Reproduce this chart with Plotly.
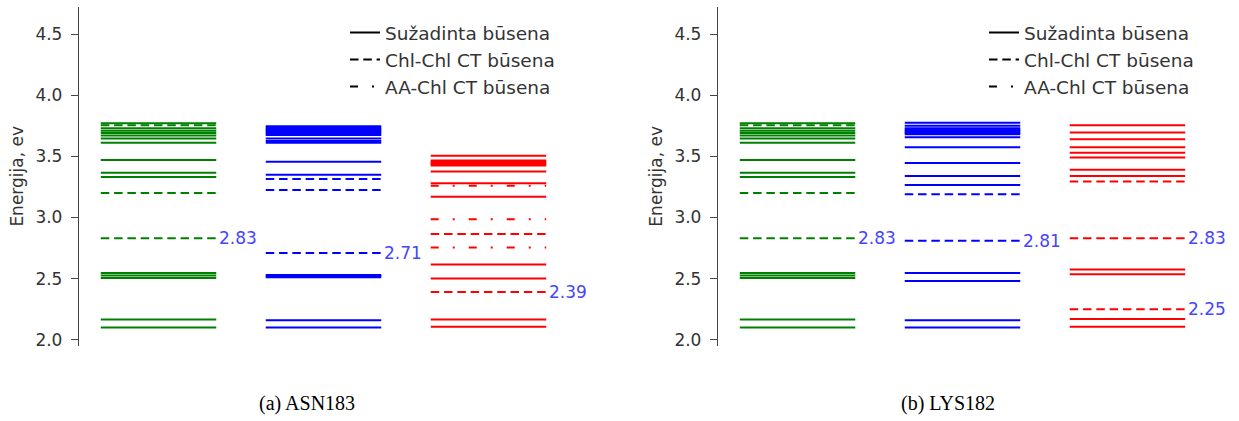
import plotly.graph_objects as go
from plotly.subplots import make_subplots

# Energy levels (eV) per column: green, blue, red
panels = ["(a) ASN183", "(b) LYS182"]
colors = ["#008000", "#0000ff", "#ff0000"]

# --- ASN183 ---
asn_solid = [
    [3.77, 3.73, 3.71, 3.69, 3.67, 3.645, 3.61, 3.47, 3.365, 3.33,
     2.545, 2.525, 2.505, 2.165, 2.10],
    [3.745, 3.735, 3.725, 3.715, 3.705, 3.695, 3.685, 3.675, 3.645, 3.625, 3.61,
     3.455, 3.35, 2.53, 2.52, 2.51, 2.16, 2.10],
    [3.505, 3.465, 3.455, 3.445, 3.435, 3.425, 3.375, 3.28, 3.17,
     2.615, 2.50, 2.165, 2.105],
]
asn_chl = [[3.755, 3.20, 2.83], [3.315, 3.225, 2.71], [2.865, 2.39]]
asn_aa = [[], [], [3.26, 2.985, 2.755]]
asn_marked = [2.83, 2.71, 2.39]

# --- LYS182 ---
lys_solid = [
    [3.77, 3.73, 3.71, 3.69, 3.67, 3.645, 3.61, 3.47, 3.365, 3.33,
     2.545, 2.525, 2.505, 2.165, 2.10],
    [3.775, 3.75, 3.73, 3.72, 3.71, 3.70, 3.69, 3.68, 3.655, 3.575,
     3.445, 3.34, 3.265, 2.545, 2.48, 2.16, 2.10],
    [3.755, 3.695, 3.64, 3.575, 3.53, 3.49, 3.39, 3.34,
     2.575, 2.535, 2.17, 2.105],
]
lys_chl = [[3.755, 3.20, 2.83], [3.19, 2.81], [3.295, 2.83, 2.25]]
lys_aa = [[], [], []]
lys_marked = [[2.83], [2.81], [2.83, 2.25]]

legend_names = ["Sužadinta būsena", "Chl-Chl CT būsena", "AA-Chl CT būsena"]
y_ticks = [2.0, 2.5, 3.0, 3.5, 4.0, 4.5]

DASH = "8.5px,4.8px"
DASHDOT = "8px,14px,2px,14px"
HALF = 0.35
LW = 2

fig = make_subplots(rows=1, cols=2)


def level_trace(col, levels, color, dash):
    xs, ys = [], []
    for v in levels:
        xs += [col - HALF, col + HALF, None]
        ys += [v, v, None]
    return go.Scatter(x=xs, y=ys, mode="lines", showlegend=False,
                      line=dict(color=color, width=LW, dash=dash),
                      hoverinfo="skip")


sets = [
    (asn_solid, asn_chl, asn_aa, [[v] for v in asn_marked]),
    (lys_solid, lys_chl, lys_aa, lys_marked),
]

for p, (solid, chl, aa, marked) in enumerate(sets):
    c = p + 1
    for i in range(3):
        fig.add_trace(level_trace(i, solid[i], colors[i], "solid"), row=1, col=c)
        fig.add_trace(level_trace(i, chl[i], colors[i], DASH), row=1, col=c)
        if aa[i]:
            fig.add_trace(level_trace(i, aa[i], colors[i], DASHDOT), row=1, col=c)
        for v in marked[i]:
            fig.add_annotation(x=i + HALF, y=v, text=f"{v:.2f}", showarrow=False,
                               xanchor="left", yanchor="middle", xshift=1,
                               font=dict(size=17, color="#4545ff",
                                         family="DejaVu Sans"),
                               row=1, col=c)
    # legend entries
    leg = "legend" if p == 0 else "legend2"
    for name, dash in zip(legend_names, ["solid", DASH, DASHDOT]):
        fig.add_trace(go.Scatter(x=[None], y=[None], mode="lines", name=name,
                                 line=dict(color="black", width=LW, dash=dash),
                                 legend=leg), row=1, col=c)

W, H = 1239, 421
x_rng = [-0.482, 2.676]
y_rng = [1.951, 4.722]
dom_y = [(H - 349) / H, (H - 7) / H]

axis_common = dict(range=x_rng, showline=False, showticklabels=False,
                   showgrid=False, zeroline=False, ticks="")
fig.update_xaxes(**axis_common)
fig.update_layout(xaxis=dict(domain=[79 / W, 600 / W]),
                  xaxis2=dict(domain=[718 / W, 1.0]))

yaxis_common = dict(range=y_rng, domain=dom_y, showgrid=False, zeroline=False,
                    showline=True, linecolor="#444", linewidth=1.3,
                    ticks="outside", ticklen=7, tickwidth=1.3, tickcolor="#444",
                    ticklabelstandoff=5,
                    tickvals=y_ticks, ticktext=[f"{v:.1f}" for v in y_ticks],
                    tickfont=dict(size=17, color="#333", family="DejaVu Sans"),
                    title=dict(text="Energija, ev", standoff=7,
                               font=dict(size=17, color="#333",
                                         family="DejaVu Sans")))
fig.update_yaxes(**yaxis_common)

legend_common = dict(font=dict(size=18.5, color="#333", family="DejaVu Sans"),
                     bgcolor="rgba(0,0,0,0)", xanchor="left", yanchor="top",
                     tracegroupgap=0, itemwidth=30)
fig.update_layout(
    legend=dict(x=345 / W, y=1 - 14 / H, **legend_common),
    legend2=dict(x=(345 + 639) / W, y=1 - 14 / H, **legend_common),
)

for text, xc in zip(panels, [307, 948]):
    fig.add_annotation(x=xc / W, y=1 - 407 / H, xref="paper", yref="paper",
                       text=text, showarrow=False, xanchor="center",
                       yanchor="middle",
                       font=dict(size=20, color="black", family="Liberation Serif"))

fig.update_layout(width=W, height=H, margin=dict(l=0, r=0, t=0, b=0),
                  plot_bgcolor="white", paper_bgcolor="white")

fig.write_html("out.html")
